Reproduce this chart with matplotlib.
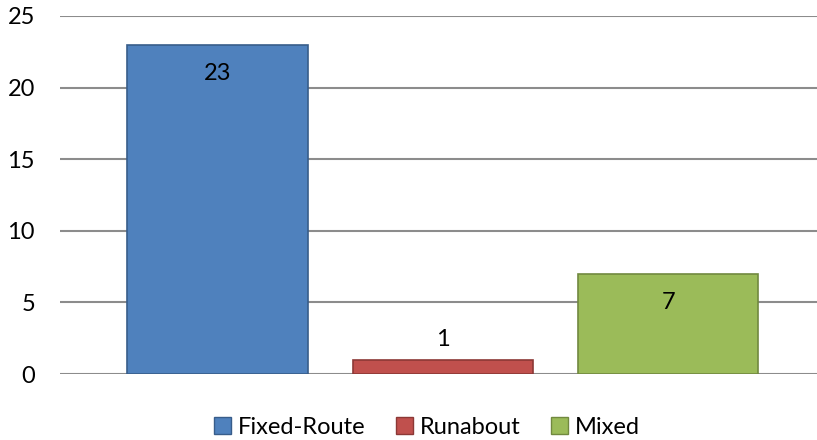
import matplotlib.pyplot as plt
from matplotlib.patches import Patch

plt.rcParams['font.family'] = ['Lato', 'DejaVu Sans']

# trip counts by service type
labels = ['Fixed-Route', 'Runabout', 'Mixed']
counts = [23, 1, 7]
fills = ['#4F81BD', '#C0504D', '#9BBB59']
edges = ['#385D8A', '#8C3836', '#71893F']

fig = plt.figure(figsize=(8.17, 4.4), dpi=100)
ax = fig.add_axes([60 / 817, 1 - 374 / 440, 1 - 60 / 817, (374 - 16) / 440])

pos = list(range(len(counts)))
bars = ax.bar(pos, counts, width=0.8, color=fills, edgecolor=edges, linewidth=1.2, zorder=3)

# value labels: inside the tall bars, above the short one
for b, v in zip(bars, counts):
    cx = b.get_x() + b.get_width() / 2
    dy = -21 if v > 3 else 14.5
    ax.annotate(str(v), (cx, v), xytext=(0, dy), textcoords='offset points',
                ha='center', va='center', fontsize=17, zorder=4)

ax.set_ylim(0, 25)
ax.set_yticks([0, 5, 10, 15, 20, 25])
ax.set_xlim(-(217.5 - 60) / 225.5, 2 + (817 - 668) / 225.5)
ax.set_xticks([])
ax.yaxis.grid(True, color='#8C8C8C', linewidth=1.5, zorder=0)
for s in ax.spines.values():
    s.set_visible(False)
ax.tick_params(axis='y', length=0, labelsize=17, pad=18)

handles = [Patch(facecolor=f, edgecolor=e, linewidth=1) for f, e in zip(fills, edges)]
fig.legend(handles, labels, loc='center', bbox_to_anchor=(427 / 817, 1 - 427 / 440),
           ncol=3, frameon=False, fontsize=17, handlelength=0.7, handleheight=0.7,
           handletextpad=0.3, columnspacing=1.3)

fig.savefig('out.png', dpi=100)
